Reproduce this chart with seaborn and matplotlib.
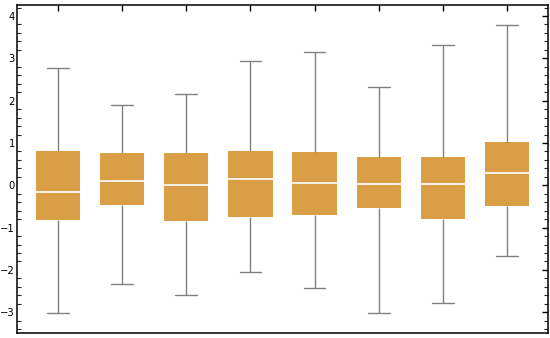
import matplotlib
matplotlib.use("Agg")
import matplotlib.pyplot as plt
import seaborn as sns
import pandas as pd
import numpy as np
from matplotlib.ticker import MultipleLocator, FixedLocator

# Five-number summaries (min, Q1, median, Q3, max)
groups = ["1", "2", "3", "4", "5", "6", "7", "8"]
lows    = [-3.02, -2.33, -2.60, -2.05, -2.42, -3.02, -2.78, -1.68]
q1s     = [-0.83, -0.47, -0.85, -0.76, -0.70, -0.53, -0.80, -0.50]
medians = [-0.17,  0.11,  0.00,  0.15,  0.06,  0.02,  0.04,  0.29]
q3s     = [ 0.81,  0.76,  0.76,  0.80,  0.78,  0.66,  0.68,  1.02]
highs   = [ 2.77,  1.90,  2.15,  2.93,  3.15,  2.33,  3.31,  3.78]

rows = []
for g, a, b, c, d, e in zip(groups, lows, q1s, medians, q3s, highs):
    for v in (a, b, c, d, e):
        rows.append({"group": g, "value": v})
df = pd.DataFrame(rows)

sns.set_style("white")
fig = plt.figure(figsize=(5.5, 3.38), dpi=100)
ax = fig.add_axes([17/550, 5/338, 531/550, 328/338])

fill = "#DA9E46"
sns.boxplot(data=df, x="group", y="value", ax=ax, whis=(0, 100),
            width=0.69, color=fill, saturation=1, showfliers=False,
            boxprops=dict(facecolor=fill, edgecolor=fill, linewidth=0),
            medianprops=dict(color="white", linewidth=1.2),
            whiskerprops=dict(color="#808080", linewidth=1.0),
            capprops=dict(color="#808080", linewidth=1.0),
            capwidths=0.34)

ax.set_xlim(-0.64, 7.64)
ax.set_ylim(-3.49, 4.26)
ax.set_xlabel("")
ax.set_ylabel("")
ax.set_xticks(range(8))
ax.set_xticklabels([])
ax.yaxis.set_major_locator(FixedLocator([-3, -2, -1, 0, 1, 2, 3, 4]))
ax.yaxis.set_minor_locator(MultipleLocator(0.2))
ax.set_yticklabels(["\u22123", "\u22122", "\u22121", "0", "1", "2", "3", "4"])
ax.tick_params(axis="both", which="major", direction="in", length=4.5, width=1.0,
               top=True, right=True, labelsize=7.2, pad=1.5, colors="black")
ax.tick_params(axis="y", which="minor", direction="in", length=2.8, width=0.8,
               right=True, left=True)
ax.tick_params(axis="x", which="minor", bottom=False, top=False)
for s in ax.spines.values():
    s.set_color("black")
    s.set_linewidth(1.1)

fig.savefig("out.png", dpi=100)
